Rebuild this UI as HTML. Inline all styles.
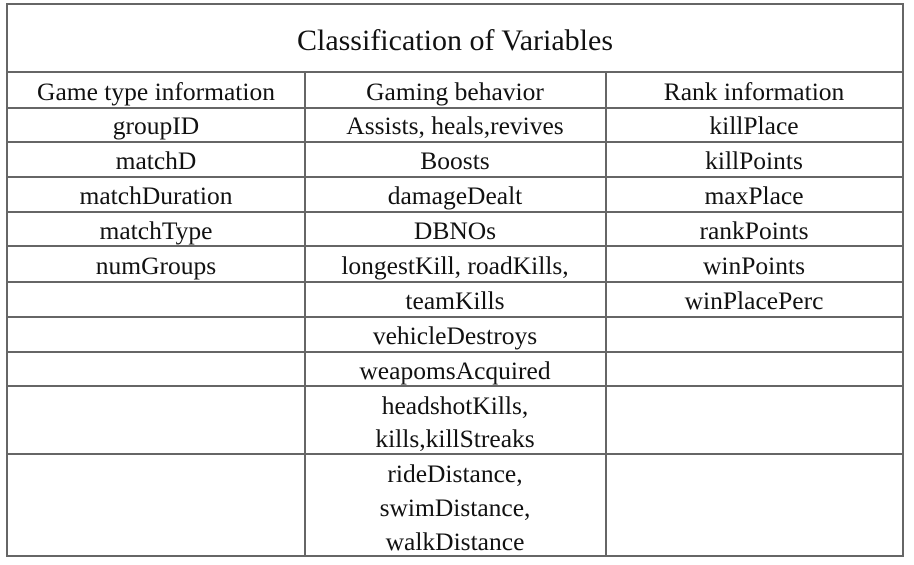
<!DOCTYPE html>
<html><head><meta charset="utf-8"><style>
html,body{margin:0;padding:0;background:#fff;width:914px;height:565px;overflow:hidden}
svg{display:block}
text{font-family:"Liberation Serif",serif;fill:#111;text-anchor:middle}
</style></head><body>
<svg width="914" height="565" viewBox="0 0 914 565">
<g stroke="#666" stroke-width="2" fill="none">
<rect x="7" y="4" width="896" height="552"/>
<line x1="7" y1="72" x2="903" y2="72"/>
<line x1="7" y1="108" x2="903" y2="108"/>
<line x1="7" y1="142" x2="903" y2="142"/>
<line x1="7" y1="177" x2="903" y2="177"/>
<line x1="7" y1="212" x2="903" y2="212"/>
<line x1="7" y1="246" x2="903" y2="246"/>
<line x1="7" y1="282" x2="903" y2="282"/>
<line x1="7" y1="317" x2="903" y2="317"/>
<line x1="7" y1="352" x2="903" y2="352"/>
<line x1="7" y1="386" x2="903" y2="386"/>
<line x1="7" y1="454" x2="903" y2="454"/>
<line x1="305" y1="72" x2="305" y2="556"/>
<line x1="606" y1="72" x2="606" y2="556"/>
</g>
<text x="455" y="50" font-size="30">Classification of Variables</text>
<g font-size="25.5">
<text x="156" y="100">Game type information</text>
<text x="455" y="100">Gaming behavior</text>
<text x="754" y="100">Rank information</text>
<text x="156" y="134">groupID</text>
<text x="455" y="134">Assists, heals,revives</text>
<text x="754" y="134">killPlace</text>
<text x="156" y="169">matchD</text>
<text x="455" y="169">Boosts</text>
<text x="754" y="169">killPoints</text>
<text x="156" y="204">matchDuration</text>
<text x="455" y="204">damageDealt</text>
<text x="754" y="204">maxPlace</text>
<text x="156" y="239">matchType</text>
<text x="455" y="239">DBNOs</text>
<text x="754" y="239">rankPoints</text>
<text x="156" y="274">numGroups</text>
<text x="455" y="274">longestKill, roadKills,</text>
<text x="754" y="274">winPoints</text>
<text x="455" y="309">teamKills</text>
<text x="754" y="309">winPlacePerc</text>
<text x="455" y="344">vehicleDestroys</text>
<text x="455" y="379">weapomsAcquired</text>
<text x="455" y="414">headshotKills,</text>
<text x="455" y="447">kills,killStreaks</text>
<text x="455" y="482">rideDistance,</text>
<text x="455" y="516">swimDistance,</text>
<text x="455" y="550">walkDistance</text>
</g>
</svg>
</body></html>
